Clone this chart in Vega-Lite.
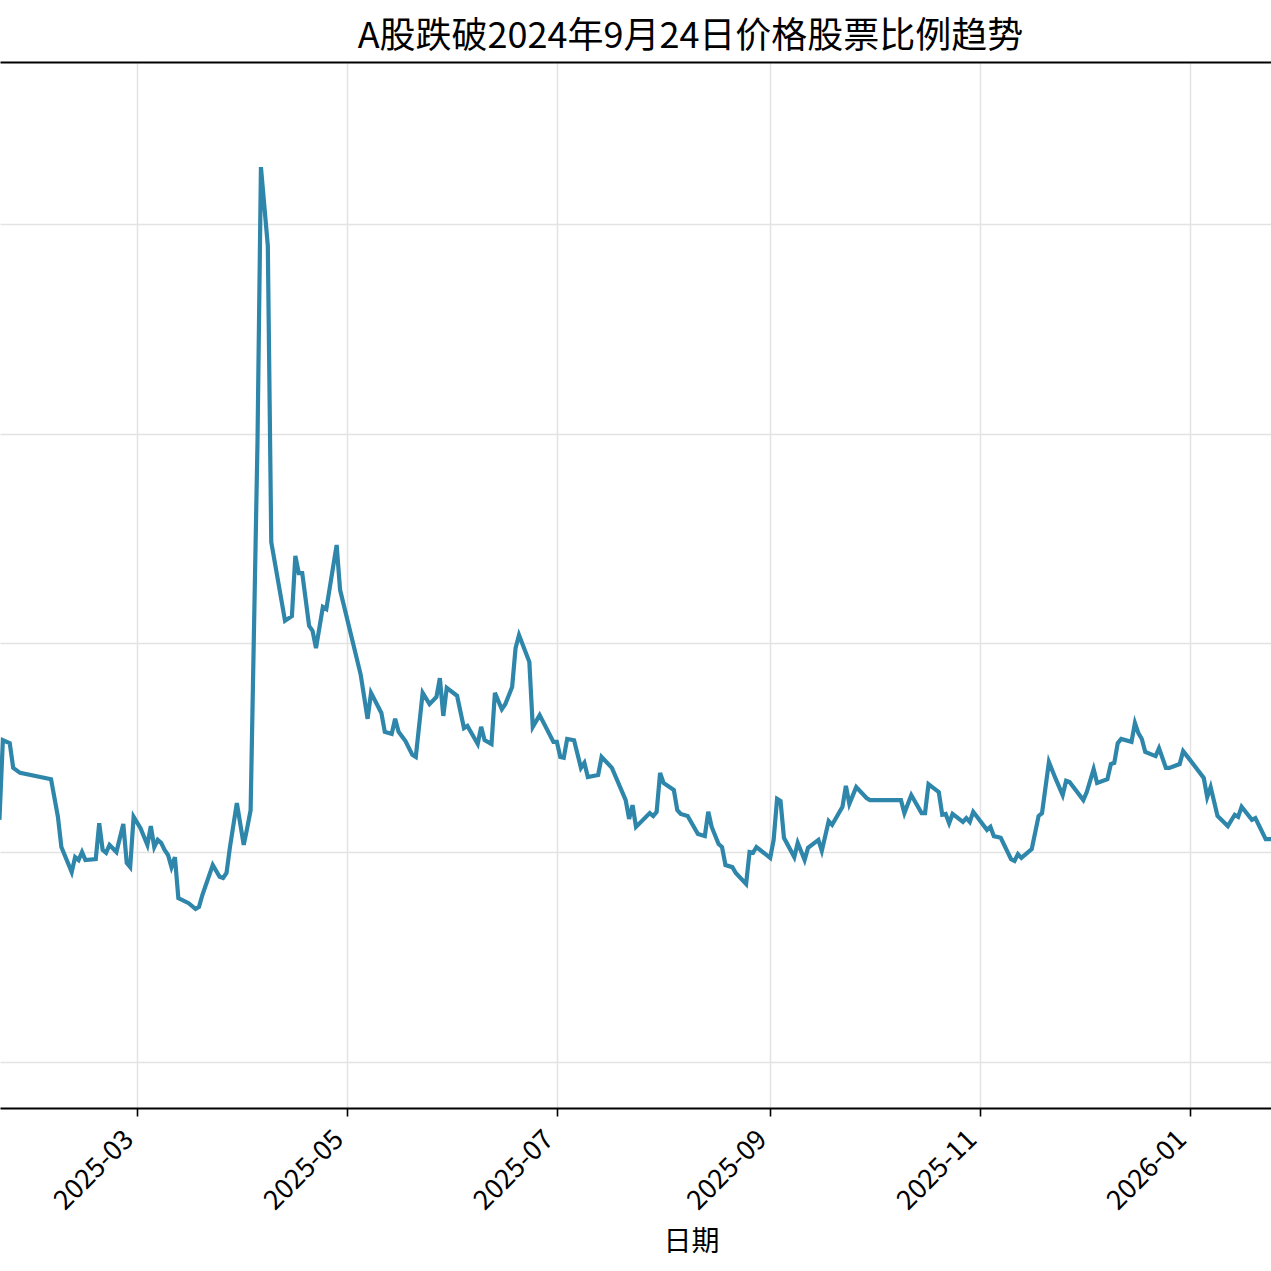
{
  "$schema": "https://vega.github.io/schema/vega-lite/v6.json",
  "width": 1271,
  "height": 1046,
  "autosize": {"type": "none"},
  "padding": {"top": 62, "left": 0, "right": 0, "bottom": 163},
  "background": "white",
  "title": {
    "text": "A股跌破2024年9月24日价格股票比例趋势",
    "font": "Noto Sans CJK SC",
    "fontSize": 36,
    "fontWeight": "normal",
    "color": "black",
    "anchor": "middle",
    "dx": 55,
    "offset": 6
  },
  "data": {
    "values": [
      {"date": "2025-01-20", "ratio": 10.78},
      {"date": "2025-01-21", "ratio": 12.68},
      {"date": "2025-01-23", "ratio": 12.61},
      {"date": "2025-01-24", "ratio": 12.02},
      {"date": "2025-01-26", "ratio": 11.9},
      {"date": "2025-02-04", "ratio": 11.75},
      {"date": "2025-02-06", "ratio": 10.85},
      {"date": "2025-02-07", "ratio": 10.13},
      {"date": "2025-02-10", "ratio": 9.53},
      {"date": "2025-02-11", "ratio": 9.89},
      {"date": "2025-02-12", "ratio": 9.82},
      {"date": "2025-02-13", "ratio": 10.01},
      {"date": "2025-02-14", "ratio": 9.82},
      {"date": "2025-02-17", "ratio": 9.84},
      {"date": "2025-02-18", "ratio": 10.7},
      {"date": "2025-02-19", "ratio": 10.06},
      {"date": "2025-02-20", "ratio": 9.99},
      {"date": "2025-02-21", "ratio": 10.18},
      {"date": "2025-02-23", "ratio": 10.01},
      {"date": "2025-02-25", "ratio": 10.68},
      {"date": "2025-02-26", "ratio": 9.75},
      {"date": "2025-02-27", "ratio": 9.65},
      {"date": "2025-02-28", "ratio": 10.85},
      {"date": "2025-03-02", "ratio": 10.58},
      {"date": "2025-03-04", "ratio": 10.18},
      {"date": "2025-03-05", "ratio": 10.63},
      {"date": "2025-03-06", "ratio": 10.13},
      {"date": "2025-03-07", "ratio": 10.3},
      {"date": "2025-03-08", "ratio": 10.23},
      {"date": "2025-03-09", "ratio": 10.06},
      {"date": "2025-03-10", "ratio": 9.94},
      {"date": "2025-03-11", "ratio": 9.65},
      {"date": "2025-03-12", "ratio": 9.89},
      {"date": "2025-03-13", "ratio": 8.91},
      {"date": "2025-03-16", "ratio": 8.79},
      {"date": "2025-03-18", "ratio": 8.65},
      {"date": "2025-03-19", "ratio": 8.7},
      {"date": "2025-03-20", "ratio": 8.99},
      {"date": "2025-03-23", "ratio": 9.7},
      {"date": "2025-03-25", "ratio": 9.42},
      {"date": "2025-03-26", "ratio": 9.39},
      {"date": "2025-03-27", "ratio": 9.51},
      {"date": "2025-03-28", "ratio": 10.13},
      {"date": "2025-03-30", "ratio": 11.18},
      {"date": "2025-04-01", "ratio": 10.18},
      {"date": "2025-04-02", "ratio": 10.58},
      {"date": "2025-04-03", "ratio": 11.01},
      {"date": "2025-04-05", "ratio": 19.8},
      {"date": "2025-04-06", "ratio": 26.36},
      {"date": "2025-04-08", "ratio": 24.48},
      {"date": "2025-04-09", "ratio": 17.41},
      {"date": "2025-04-13", "ratio": 15.53},
      {"date": "2025-04-15", "ratio": 15.64},
      {"date": "2025-04-16", "ratio": 17.08},
      {"date": "2025-04-17", "ratio": 16.67},
      {"date": "2025-04-18", "ratio": 16.67},
      {"date": "2025-04-20", "ratio": 15.41},
      {"date": "2025-04-21", "ratio": 15.29},
      {"date": "2025-04-22", "ratio": 14.88},
      {"date": "2025-04-24", "ratio": 15.86},
      {"date": "2025-04-25", "ratio": 15.81},
      {"date": "2025-04-28", "ratio": 17.34},
      {"date": "2025-04-29", "ratio": 16.27},
      {"date": "2025-05-05", "ratio": 14.24},
      {"date": "2025-05-07", "ratio": 13.19},
      {"date": "2025-05-08", "ratio": 13.81},
      {"date": "2025-05-11", "ratio": 13.33},
      {"date": "2025-05-12", "ratio": 12.88},
      {"date": "2025-05-14", "ratio": 12.83},
      {"date": "2025-05-15", "ratio": 13.19},
      {"date": "2025-05-16", "ratio": 12.88},
      {"date": "2025-05-18", "ratio": 12.66},
      {"date": "2025-05-20", "ratio": 12.33},
      {"date": "2025-05-21", "ratio": 12.28},
      {"date": "2025-05-23", "ratio": 13.81},
      {"date": "2025-05-25", "ratio": 13.54},
      {"date": "2025-05-27", "ratio": 13.71},
      {"date": "2025-05-28", "ratio": 14.16},
      {"date": "2025-05-29", "ratio": 13.26},
      {"date": "2025-05-30", "ratio": 13.93},
      {"date": "2025-06-02", "ratio": 13.74},
      {"date": "2025-06-04", "ratio": 12.97},
      {"date": "2025-06-05", "ratio": 13.02},
      {"date": "2025-06-08", "ratio": 12.59},
      {"date": "2025-06-09", "ratio": 13.0},
      {"date": "2025-06-10", "ratio": 12.68},
      {"date": "2025-06-12", "ratio": 12.59},
      {"date": "2025-06-13", "ratio": 13.81},
      {"date": "2025-06-15", "ratio": 13.42},
      {"date": "2025-06-16", "ratio": 13.54},
      {"date": "2025-06-18", "ratio": 13.95},
      {"date": "2025-06-19", "ratio": 14.88},
      {"date": "2025-06-20", "ratio": 15.19},
      {"date": "2025-06-23", "ratio": 14.55},
      {"date": "2025-06-24", "ratio": 13.0},
      {"date": "2025-06-26", "ratio": 13.28},
      {"date": "2025-06-30", "ratio": 12.64},
      {"date": "2025-07-01", "ratio": 12.64},
      {"date": "2025-07-02", "ratio": 12.28},
      {"date": "2025-07-03", "ratio": 12.26},
      {"date": "2025-07-04", "ratio": 12.71},
      {"date": "2025-07-06", "ratio": 12.68},
      {"date": "2025-07-08", "ratio": 12.02},
      {"date": "2025-07-09", "ratio": 12.14},
      {"date": "2025-07-10", "ratio": 11.8},
      {"date": "2025-07-13", "ratio": 11.85},
      {"date": "2025-07-14", "ratio": 12.28},
      {"date": "2025-07-17", "ratio": 12.02},
      {"date": "2025-07-21", "ratio": 11.25},
      {"date": "2025-07-22", "ratio": 10.8},
      {"date": "2025-07-23", "ratio": 11.13},
      {"date": "2025-07-24", "ratio": 10.61},
      {"date": "2025-07-28", "ratio": 10.94},
      {"date": "2025-07-29", "ratio": 10.87},
      {"date": "2025-07-30", "ratio": 10.97},
      {"date": "2025-07-31", "ratio": 11.9},
      {"date": "2025-08-01", "ratio": 11.66},
      {"date": "2025-08-04", "ratio": 11.49},
      {"date": "2025-08-05", "ratio": 11.01},
      {"date": "2025-08-06", "ratio": 10.92},
      {"date": "2025-08-08", "ratio": 10.87},
      {"date": "2025-08-11", "ratio": 10.44},
      {"date": "2025-08-13", "ratio": 10.39},
      {"date": "2025-08-14", "ratio": 10.97},
      {"date": "2025-08-15", "ratio": 10.61},
      {"date": "2025-08-17", "ratio": 10.2},
      {"date": "2025-08-18", "ratio": 10.13},
      {"date": "2025-08-19", "ratio": 9.7},
      {"date": "2025-08-21", "ratio": 9.65},
      {"date": "2025-08-22", "ratio": 9.51},
      {"date": "2025-08-25", "ratio": 9.25},
      {"date": "2025-08-26", "ratio": 10.01},
      {"date": "2025-08-27", "ratio": 9.99},
      {"date": "2025-08-28", "ratio": 10.13},
      {"date": "2025-09-01", "ratio": 9.87},
      {"date": "2025-09-02", "ratio": 10.3},
      {"date": "2025-09-03", "ratio": 11.28},
      {"date": "2025-09-04", "ratio": 11.23},
      {"date": "2025-09-05", "ratio": 10.35},
      {"date": "2025-09-08", "ratio": 9.89},
      {"date": "2025-09-09", "ratio": 10.23},
      {"date": "2025-09-11", "ratio": 9.82},
      {"date": "2025-09-12", "ratio": 10.11},
      {"date": "2025-09-15", "ratio": 10.3},
      {"date": "2025-09-16", "ratio": 10.04},
      {"date": "2025-09-18", "ratio": 10.75},
      {"date": "2025-09-19", "ratio": 10.66},
      {"date": "2025-09-22", "ratio": 11.09},
      {"date": "2025-09-23", "ratio": 11.59},
      {"date": "2025-09-24", "ratio": 11.16},
      {"date": "2025-09-26", "ratio": 11.56},
      {"date": "2025-09-29", "ratio": 11.3},
      {"date": "2025-09-30", "ratio": 11.25},
      {"date": "2025-10-09", "ratio": 11.25},
      {"date": "2025-10-10", "ratio": 10.94},
      {"date": "2025-10-12", "ratio": 11.37},
      {"date": "2025-10-15", "ratio": 10.94},
      {"date": "2025-10-16", "ratio": 10.94},
      {"date": "2025-10-17", "ratio": 11.63},
      {"date": "2025-10-20", "ratio": 11.44},
      {"date": "2025-10-21", "ratio": 10.9},
      {"date": "2025-10-22", "ratio": 10.92},
      {"date": "2025-10-23", "ratio": 10.7},
      {"date": "2025-10-24", "ratio": 10.92},
      {"date": "2025-10-27", "ratio": 10.73},
      {"date": "2025-10-28", "ratio": 10.82},
      {"date": "2025-10-29", "ratio": 10.73},
      {"date": "2025-10-30", "ratio": 10.97},
      {"date": "2025-11-03", "ratio": 10.54},
      {"date": "2025-11-04", "ratio": 10.61},
      {"date": "2025-11-05", "ratio": 10.39},
      {"date": "2025-11-07", "ratio": 10.35},
      {"date": "2025-11-10", "ratio": 9.84},
      {"date": "2025-11-11", "ratio": 9.8},
      {"date": "2025-11-12", "ratio": 9.96},
      {"date": "2025-11-13", "ratio": 9.87},
      {"date": "2025-11-16", "ratio": 10.08},
      {"date": "2025-11-18", "ratio": 10.87},
      {"date": "2025-11-19", "ratio": 10.94},
      {"date": "2025-11-21", "ratio": 12.16},
      {"date": "2025-11-23", "ratio": 11.75},
      {"date": "2025-11-25", "ratio": 11.37},
      {"date": "2025-11-26", "ratio": 11.71},
      {"date": "2025-11-27", "ratio": 11.68},
      {"date": "2025-12-01", "ratio": 11.25},
      {"date": "2025-12-02", "ratio": 11.44},
      {"date": "2025-12-04", "ratio": 11.99},
      {"date": "2025-12-05", "ratio": 11.66},
      {"date": "2025-12-08", "ratio": 11.75},
      {"date": "2025-12-09", "ratio": 12.11},
      {"date": "2025-12-10", "ratio": 12.14},
      {"date": "2025-12-11", "ratio": 12.61},
      {"date": "2025-12-12", "ratio": 12.71},
      {"date": "2025-12-15", "ratio": 12.64},
      {"date": "2025-12-16", "ratio": 13.09},
      {"date": "2025-12-17", "ratio": 12.85},
      {"date": "2025-12-18", "ratio": 12.71},
      {"date": "2025-12-19", "ratio": 12.4},
      {"date": "2025-12-22", "ratio": 12.3},
      {"date": "2025-12-23", "ratio": 12.49},
      {"date": "2025-12-25", "ratio": 12.02},
      {"date": "2025-12-26", "ratio": 12.02},
      {"date": "2025-12-29", "ratio": 12.11},
      {"date": "2025-12-30", "ratio": 12.42},
      {"date": "2026-01-01", "ratio": 12.21},
      {"date": "2026-01-05", "ratio": 11.78},
      {"date": "2026-01-06", "ratio": 11.32},
      {"date": "2026-01-07", "ratio": 11.56},
      {"date": "2026-01-09", "ratio": 10.87},
      {"date": "2026-01-12", "ratio": 10.63},
      {"date": "2026-01-14", "ratio": 10.9},
      {"date": "2026-01-15", "ratio": 10.85},
      {"date": "2026-01-16", "ratio": 11.09},
      {"date": "2026-01-19", "ratio": 10.78},
      {"date": "2026-01-20", "ratio": 10.82},
      {"date": "2026-01-23", "ratio": 10.32},
      {"date": "2026-01-25", "ratio": 10.32}
    ]
  },
  "layer": [
    {
      "mark": {"type": "line", "color": "#2e86ab", "strokeWidth": 4.2, "clip": true},
      "encoding": {
        "x": {
          "field": "date",
          "type": "temporal",
          "scale": {
            "type": "utc",
            "domain": [
              {"year": 2025, "month": 1, "date": 20, "hours": 4, "utc": true},
              {"year": 2026, "month": 1, "date": 24, "hours": 13, "utc": true}
            ]
          },
          "axis": {
            "title": "日期",
            "titleX": 691,
            "values": [
              {"year": 2025, "month": 3, "date": 1, "utc": true},
              {"year": 2025, "month": 5, "date": 1, "utc": true},
              {"year": 2025, "month": 7, "date": 1, "utc": true},
              {"year": 2025, "month": 9, "date": 1, "utc": true},
              {"year": 2025, "month": 11, "date": 1, "utc": true},
              {"year": 2026, "month": 1, "date": 1, "utc": true}
            ],
            "labelExpr": "utcFormat(datum.value, '%Y-%m')",
            "labelAngle": -45,
            "labelAlign": "right",
            "labelBaseline": "middle",
            "labelPadding": 19,
            "labelOffset": -8,
            "labelFontSize": 27,
            "labelFont": "Noto Sans CJK SC",
            "labelColor": "black",
            "labelOverlap": false,
            "labelBound": false,
            "titleFont": "Noto Sans CJK SC",
            "titleFontSize": 28,
            "titleFontWeight": "normal",
            "titleColor": "black",
            "titlePadding": 14,
            "domainColor": "black",
            "domainWidth": 1.8,
            "tickColor": "black",
            "tickWidth": 1.6,
            "tickSize": 8,
            "grid": true,
            "gridColor": "#e3e3e3",
            "gridWidth": 1.5
          }
        },
        "y": {
          "field": "ratio",
          "type": "quantitative",
          "scale": {"domain": [3.9, 28.87], "nice": false, "zero": false},
          "axis": {
            "title": null,
            "values": [5, 10, 15, 20, 25],
            "labels": false,
            "ticks": false,
            "domain": false,
            "grid": true,
            "gridColor": "#e3e3e3",
            "gridWidth": 1.5
          }
        }
      }
    },
    {
      "mark": {"type": "line", "opacity": 0},
      "encoding": {
        "x": {
          "field": "date",
          "type": "temporal",
          "axis": {
            "orient": "top",
            "title": null,
            "labels": false,
            "ticks": false,
            "grid": false,
            "domainColor": "black",
            "domainWidth": 1.8
          }
        },
        "y": {"field": "ratio", "type": "quantitative"}
      }
    }
  ],
  "resolve": {"axis": {"x": "independent"}},
  "config": {"view": {"stroke": null}}
}
